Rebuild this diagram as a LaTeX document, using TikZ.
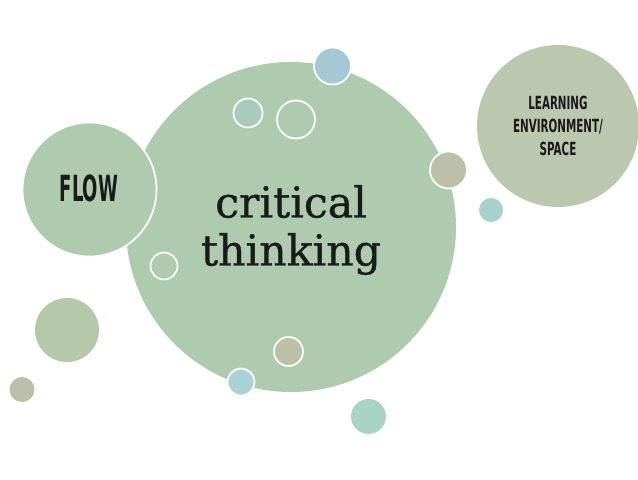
\documentclass[tikz,border=0pt]{standalone}
\usepackage{fontspec}
\setmainfont{DejaVu Serif}[FakeBold=0.8]
\newfontfamily\flowfont{DejaVu Sans}[FakeStretch=0.5,BoldFont={DejaVu Sans Bold}]
\newfontfamily\learnfont{DejaVu Sans}[FakeStretch=0.57,BoldFont={DejaVu Sans Bold}]
\definecolor{bigg}{HTML}{AECBB0}
\definecolor{learng}{HTML}{BBC7AF}
\definecolor{blueA}{HTML}{A5C9D4}
\definecolor{grayA}{HTML}{BDC0A9}
\definecolor{olive}{HTML}{B5C8AA}
\definecolor{tealA}{HTML}{A8D0CC}
\definecolor{tealB}{HTML}{A9D3C5}
\definecolor{blueB}{HTML}{A8D2D6}
\definecolor{mint}{HTML}{A8CBBD}
\definecolor{ink}{HTML}{1A1A1A}
\tikzset{
  bub/.style={circle, inner sep=0pt, minimum size=#1*1.5pt, draw=white, line width=1.3pt},
  lbl/.style={text=ink, align=center}
}
\begin{document}
\begin{tikzpicture}[x=0.75pt,y=-0.75pt]
\useasboundingbox[fill=white] (0,0) rectangle (638,479);
% main circle
\node[bub=165, fill=bigg, draw=none] (ct) at (291,227) {};
\node[lbl, font=\fontsize{32}{36}\selectfont] (ctt) at (291,230) {critical\\thinking};
% flow
\node[bub=67, fill=bigg] (flow) at (89.5,189.5) {};
\node[lbl, font=\flowfont\bfseries\fontsize{27}{30}\selectfont] (flowt) at (89,188) {FLOW};
% learning
\node[bub=81, fill=learng, draw=none] (learn) at (558,126) {};
\node[lbl, font=\learnfont\bfseries\fontsize{13.6}{17.3}\selectfont] (learnt) at (558,125.5) {LEARNING\\ENVIRONMENT/\\SPACE};
% small bubbles
\node[bub=18.5, fill=blueA] (b1) at (332.5,66) {};
\node[bub=14.5, fill=mint] (b2) at (248,113) {};
\node[bub=19, fill=bigg] (b3) at (296,119.5) {};
\node[bub=18.5, fill=grayA] (b4) at (448.5,170) {};
\node[bub=12, fill=tealA, draw=none] (b5) at (491,210) {};
\node[bub=13.5, fill=bigg] (b6) at (164,266) {};
\node[bub=32, fill=olive, draw=none] (b7) at (67,330) {};
\node[bub=12.5, fill=grayA, draw=none] (b8) at (22,389.5) {};
\node[bub=14.5, fill=grayA] (b9) at (288.5,351.5) {};
\node[bub=13.5, fill=blueB] (b10) at (241,382) {};
\node[bub=17.5, fill=tealB, draw=none] (b11) at (368.5,416.5) {};
\end{tikzpicture}
\end{document}
